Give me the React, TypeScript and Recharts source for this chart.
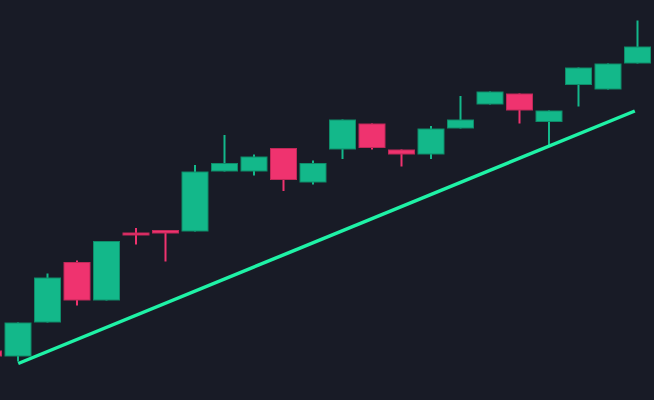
import React from 'react';
import { ComposedChart, Bar, XAxis, YAxis, ReferenceLine } from 'recharts';

// candle data, one entry per session
const sessions = [
    'D1', 'D2', 'D3', 'D4', 'D5', 'D6', 'D7', 'D8', 'D9', 'D10', 'D11', 'D12',
    'D13', 'D14', 'D15', 'D16', 'D17', 'D18', 'D19', 'D20', 'D21', 'D22', 'D23',
];
const opens = [
    109.9, 108.7, 115.5, 127.6, 119.9, 133.5, 134.0, 133.7, 145.7, 145.7, 150.4, 143.5,
    150.1, 155.3, 150.1, 149.1, 154.3, 159.1, 161.3, 155.6, 163.0, 162.1, 167.3,
];
const closes = [
    108.7, 115.5, 124.5, 119.9, 131.8, 132.9, 133.3, 145.7, 147.4, 148.7, 144.0, 147.4,
    156.1, 150.4, 149.1, 154.3, 156.1, 161.7, 157.9, 157.9, 166.5, 167.3, 170.7,
];
const highs = [
    109.9, 115.5, 125.3, 127.9, 131.8, 134.4, 134.0, 147.0, 153.0, 149.1, 150.4, 147.9,
    156.1, 155.3, 150.1, 154.8, 160.8, 161.7, 161.3, 157.9, 166.5, 167.3, 175.9,
];
const lows = [
    108.7, 107.7, 115.5, 118.9, 119.9, 131.1, 127.7, 133.7, 145.7, 144.9, 141.8, 143.1,
    148.2, 150.1, 146.7, 148.2, 154.3, 159.1, 155.3, 151.0, 158.7, 162.1, 167.3,
];

// support trendline (session index, price)
const trendPoints = [
    { x: 1, y: 107.3 },
    { x: 21.9, y: 157.8 },
];

const BG = '#181b26';
const UP = '#13b88a';
const UP_EDGE = '#0e8c69';
const DOWN = '#ef336f';
const DOWN_EDGE = '#bf2858';
const TREND = '#1ff2a6';

const data = sessions.map((name, i) => ({
    name,
    idx: i,
    open: opens[i],
    close: closes[i],
    high: highs[i],
    low: lows[i],
    range: [lows[i], highs[i]],
}));

function Candle(props: any) {
    const { x, y, width, height, payload } = props;
    if (x == null || y == null) return null;
    const { open, close, high, low } = payload;
    const top = Math.min(y, y + height);
    const h = Math.abs(height);
    const toPx = (v: number) => (high === low ? top : top + ((high - v) / (high - low)) * h);
    const up = close >= open;
    const fill = up ? UP : DOWN;
    const edge = up ? UP_EDGE : DOWN_EDGE;
    const bodyTop = Math.min(toPx(open), toPx(close));
    const bodyH = Math.max(1, Math.abs(toPx(open) - toPx(close)));
    const cx = x + width / 2;
    return (
        <g>
            <rect x={cx - 1} y={top} width={2} height={Math.max(h, 1)} fill={fill} />
            <rect
                x={x + 0.5}
                y={bodyTop + 0.5}
                width={width - 1}
                height={Math.max(bodyH - 1, 1)}
                fill={fill}
                stroke={edge}
                strokeWidth={1}
            />
        </g>
    );
}

const SLOT = 29.5;
const CHART_W = SLOT * sessions.length;

export default function App() {
    return (
        <div
            style={{
                position: 'fixed',
                left: 0,
                top: 0,
                width: 654,
                height: 400,
                overflow: 'hidden',
                background: BG,
            }}
        >
            <div style={{ position: 'absolute', left: -26.25, top: 0 }}>
                <ComposedChart
                    width={CHART_W}
                    height={400}
                    data={data}
                    margin={{ top: 0, right: 0, bottom: 0, left: 0 }}
                    barSize={27}
                >
                    <XAxis dataKey="name" hide />
                    <XAxis
                        xAxisId="num"
                        dataKey="idx"
                        type="number"
                        domain={[-0.5, sessions.length - 0.5]}
                        allowDataOverflow
                        hide
                    />
                    <YAxis hide domain={[100, 180]} allowDataOverflow width={0} />
                    <Bar dataKey="range" shape={<Candle />} isAnimationActive={false} />
                    <ReferenceLine
                        xAxisId="num"
                        segment={trendPoints}
                        stroke={TREND}
                        strokeWidth={3.5}
                        ifOverflow="visible"
                    />
                </ComposedChart>
            </div>
        </div>
    );
}
